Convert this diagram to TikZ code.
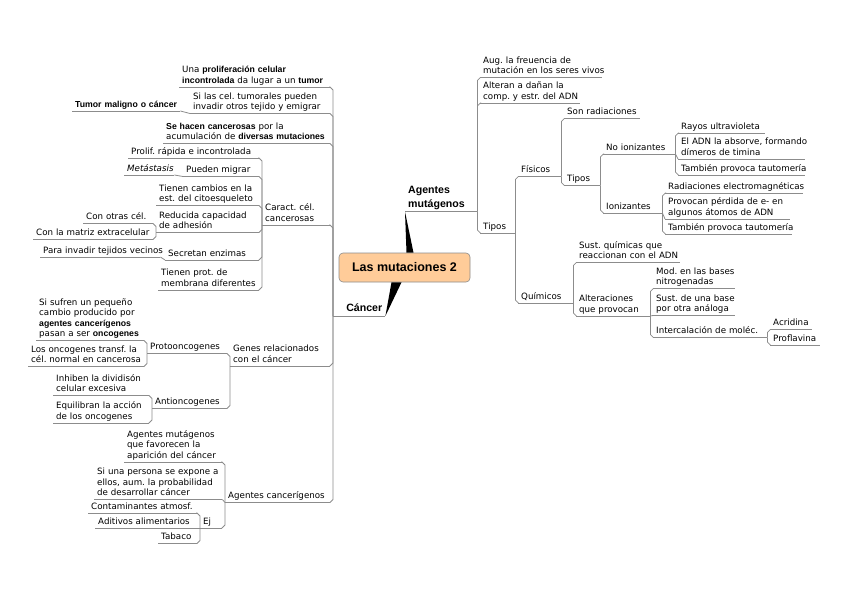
\documentclass[tikz,border=0pt]{standalone}
\usepackage{fontspec}
\setmainfont{DejaVu Sans}
\newfontfamily\lib{Liberation Sans}
\usetikzlibrary{calc,positioning}
\definecolor{peach}{HTML}{FFCC99}
\definecolor{linegray}{HTML}{8C8C8C}
\newcommand{\hl}[1]{{\lib\bfseries #1}}
\newcommand{\tl}[1]{\begin{tabular}[b]{@{}l@{}}#1\end{tabular}}
\frenchspacing

\begin{document}
\begin{tikzpicture}[x=1pt,y=-1pt,
    edgeline/.style={draw=linegray, line width=0.8pt},
    topic/.style={anchor=south west, inner xsep=3pt, inner ysep=0.3pt,
        font=\fontsize{8.7}{10.6}\selectfont,
        append after command={(\tikzlastnode.south west) edge[edgeline] (\tikzlastnode.south east)}},
    branch/.style={topic, font=\lib\bfseries\fontsize{10.6}{13.5}\selectfont},
    central/.style={draw=linegray, fill=peach, rounded corners=4pt, line width=0.6pt,
        minimum width=131pt, minimum height=29pt, font=\lib\bfseries\fontsize{12.5}{14}\selectfont},
    rlink/.style={to path={let \p1=(\tikztostart), \p2=(\tikztotarget),
        \n2={((\y2)-(\y1))>0 ? 3 : -3},
        \n1={abs((\y2)-(\y1))>6 ? \n2 : (\y2)-(\y1)},
        \n3={abs((\y2)-(\y1))>6 ? 3 : (\x2)-(\x1)} in
        -- (\x1,{\y2-(\n1)}) -- ({\x1+(\n3)},\y2) -- (\tikztotarget)}},
    llink/.style={to path={let \p1=(\tikztostart), \p2=(\tikztotarget),
        \n2={((\y2)-(\y1))>0 ? 3 : -3},
        \n1={abs((\y2)-(\y1))>6 ? \n2 : (\y2)-(\y1)},
        \n3={abs((\y2)-(\y1))>6 ? 3 : (\x1)-(\x2)} in
        -- (\x1,{\y2-(\n1)}) -- ({\x1-(\n3)},\y2) -- (\tikztotarget)}},
  ]
\useasboundingbox (0,0) rectangle (848,599);

% central topic and the two main branches
\node[central] (root) at (404.5,267.5) {Las mutaciones 2};
\node[branch, text width=66pt] (mut) at (405,211.7) {\tl{Agentes\\mut\'agenos}};
\node[branch, text width=46pt] (can) at (333,316) {\hfill\tl{C\'ancer}};
\fill (mut.south west) -- ([xshift=2pt]root.north) -- ([xshift=9pt]root.north) -- cycle;
\fill (can.south east) -- ([xshift=-13pt]root.south) -- ([xshift=-3pt]root.south) -- cycle;

% Agentes mutagenos
\node[topic, text width=116pt] (aug) at (480,77.5) {\tl{Aug. la freuencia de\\mutaci\'on en los seres vivos}};
\node[topic, text width=94pt] (alt) at (480,103) {\tl{Alteran a da\~nan la\\comp. y estr. del ADN}};
\node[topic, text width=29pt] (tipos) at (480,233) {\tl{Tipos}};
\node[topic, text width=37pt] (fis) at (518,176.5) {\tl{F\'isicos}};
\node[topic, text width=49pt] (qui) at (518,303) {\tl{Qu\'imicos}};
\node[topic, text width=70pt] (rad) at (564,118.5) {\tl{Son radiaciones}};
\node[topic, text width=30pt] (tipf) at (564,185.5) {\tl{Tipos}};
\node[topic, text width=66pt] (noion) at (603,154) {\tl{No ionizantes}};
\node[topic, text width=53pt] (ion) at (603,213) {\tl{Ionizantes}};
\node[topic, text width=81pt] (uv) at (678,133) {\tl{Rayos ultravioleta}};
\node[topic, text width=121pt] (dim) at (678,159) {\tl{El ADN la absorve, formando\\d\'imeros de timina}};
\node[topic, text width=121pt] (tau1) at (678,175) {\tl{Tambi\'en provoca tautomer\'ia}};
\node[topic, text width=132pt] (em) at (665,193) {\tl{Radiaciones electromagn\'eticas}};
\node[topic, text width=119pt] (perd) at (665,219) {\tl{Provocan p\'erdida de e- en\\algunos \'atomos de ADN}};
\node[topic, text width=121pt] (tau2) at (665,234) {\tl{Tambi\'en provoca tautomer\'ia}};
\node[topic, text width=98pt] (sust) at (576,262.5) {\tl{Sust. qu\'imicas que\\reaccionan con el ADN}};
\node[topic, text width=68pt] (altp) at (576,316) {\tl{Alteraciones\\que provocan}};
\node[topic, text width=76pt] (mod) at (653,288.5) {\tl{Mod. en las bases\\nitrogenadas}};
\node[topic, text width=76pt] (sbase) at (653,315.5) {\tl{Sust. de una base\\por otra an\'aloga}};
\node[topic, text width=108pt] (inter) at (653,337.5) {\tl{Intercalaci\'on de mol\'ec.}};
\node[topic, text width=36pt] (acr) at (770,329.5) {\tl{Acridina}};
\node[topic, text width=44pt] (prof) at (770,345) {\tl{Proflavina}};

\foreach \c in {aug,alt,tipos} \draw[edgeline] (mut.south east) to[rlink] (\c.south west);
\foreach \c in {fis,qui} \draw[edgeline] (tipos.south east) to[rlink] (\c.south west);
\foreach \c in {rad,tipf} \draw[edgeline] (fis.south east) to[rlink] (\c.south west);
\foreach \c in {noion,ion} \draw[edgeline] (tipf.south east) to[rlink] (\c.south west);
\foreach \c in {uv,dim,tau1} \draw[edgeline] (noion.south east) to[rlink] (\c.south west);
\foreach \c in {em,perd,tau2} \draw[edgeline] (ion.south east) to[rlink] (\c.south west);
\foreach \c in {sust,altp} \draw[edgeline] (qui.south east) to[rlink] (\c.south west);
\foreach \c in {mod,sbase,inter} \draw[edgeline] (altp.south east) to[rlink] (\c.south west);
\foreach \c in {acr,prof} \draw[edgeline] (inter.south east) to[rlink] (\c.south west);

% Cancer
\node[topic, text width=145pt] (prol) at (179,87) {\tl{Una \hl{proliferaci\'on celular}\\\hl{incontrolada} da lugar a un \hl{tumor}}};
\node[topic, text width=134pt] (inv) at (190,113.5) {\tl{Si las cel. tumorales pueden\\invadir otros tejido y emigrar}};
\node[topic, text width=102pt] (maligno) at (72,111) {\tl{\hl{Tumor maligno o c\'ancer}}};
\node[topic, text width=161pt] (acum) at (163,143.5) {\tl{\hl{Se hacen cancerosas} por la\\acumulaci\'on de \hl{diversas mutaciones}}};
\node[topic, text width=62pt] (caract) at (262,225) {\tl{Caract. c\'el.\\cancerosas}};
\node[topic, text width=125pt] (rap) at (128,158) {\tl{Prolif. r\'apida e incontrolada}};
\node[topic, text width=70pt] (mig) at (183,176.5) {\tl{Pueden migrar}};
\node[topic, text width=44pt] (meta) at (124,175) {\tl{\textit{Met\'astasis}}};
\node[topic, text width=97pt] (cito) at (156,205.5) {\tl{Tienen cambios en la\\est. del citoesqueleto}};
\node[topic, text width=97pt] (adh) at (156,232.5) {\tl{Reducida capacidad\\de adhesi\'on}};
\node[topic, text width=64pt] (otras) at (83,223.5) {\tl{Con otras c\'el.}};
\node[topic, text width=114pt] (matriz) at (33,239.5) {\tl{Con la matriz extracelular}};
\node[topic, text width=88pt] (enz) at (165,260) {\tl{Secretan enzimas}};
\node[topic, text width=114pt] (vec) at (40,257) {\tl{Para invadir tejidos vecinos}};
\node[topic, text width=95pt] (memb) at (158,290) {\tl{Tienen prot. de\\membrana diferentes}};
\node[topic, text width=94pt] (genes) at (230,366) {\tl{Genes relacionados\\con el c\'ancer}};
\node[topic, text width=74pt] (proto) at (147,353.5) {\tl{Protooncogenes}};
\node[topic, text width=102pt] (sisuf) at (36,340.5) {\tl{Si sufren un peque\~no\\cambio producido por\\\hl{agentes cancer\'igenos}\\pasan a ser \hl{oncogenes}}};
\node[topic, text width=110pt] (transf) at (28,366.5) {\tl{Los oncogenes transf. la\\c\'el. normal en cancerosa}};
\node[topic, text width=69pt] (anti) at (152,408.5) {\tl{Antioncogenes}};
\node[topic, text width=90pt] (inh) at (53,395.5) {\tl{Inhiben la dividis\'on\\celular excesiva}};
\node[topic, text width=90pt] (equ) at (53,423) {\tl{Equilibran la acci\'on\\de los oncogenes}};
\node[topic, text width=99pt] (agcanc) at (225,502.5) {\tl{Agentes cancer\'igenos}};
\node[topic, text width=92pt] (favo) at (124,462) {\tl{Agentes mut\'agenos\\que favorecen la\\aparici\'on del c\'ancer}};
\node[topic, text width=122pt] (expo) at (94,499.5) {\tl{Si una persona se expone a\\ellos, aum. la probabilidad\\de desarrollar c\'ancer}};
\node[topic, text width=16pt] (ej) at (200,528) {\tl{Ej}};
\node[topic, text width=103pt] (contam) at (88,513) {\tl{Contaminantes atmosf.}};
\node[topic, text width=96pt] (adit) at (95,528) {\tl{Aditivos alimentarios}};
\node[topic, text width=33pt] (tabaco) at (158,543.5) {\tl{Tabaco}};

\foreach \c in {prol,inv,acum,caract,genes,agcanc} \draw[edgeline] (can.south west) to[llink] (\c.south east);
\draw[edgeline] (inv.south west) to[llink] (maligno.south east);
\foreach \c in {rap,mig,cito,adh,enz,memb} \draw[edgeline] (caract.south west) to[llink] (\c.south east);
\draw[edgeline] (mig.south west) to[llink] (meta.south east);
\foreach \c in {otras,matriz} \draw[edgeline] (adh.south west) to[llink] (\c.south east);
\draw[edgeline] (enz.south west) to[llink] (vec.south east);
\foreach \c in {proto,anti} \draw[edgeline] (genes.south west) to[llink] (\c.south east);
\foreach \c in {sisuf,transf} \draw[edgeline] (proto.south west) to[llink] (\c.south east);
\foreach \c in {inh,equ} \draw[edgeline] (anti.south west) to[llink] (\c.south east);
\foreach \c in {favo,expo,ej} \draw[edgeline] (agcanc.south west) to[llink] (\c.south east);
\foreach \c in {contam,adit,tabaco} \draw[edgeline] (ej.south west) to[llink] (\c.south east);

\end{tikzpicture}
\end{document}
